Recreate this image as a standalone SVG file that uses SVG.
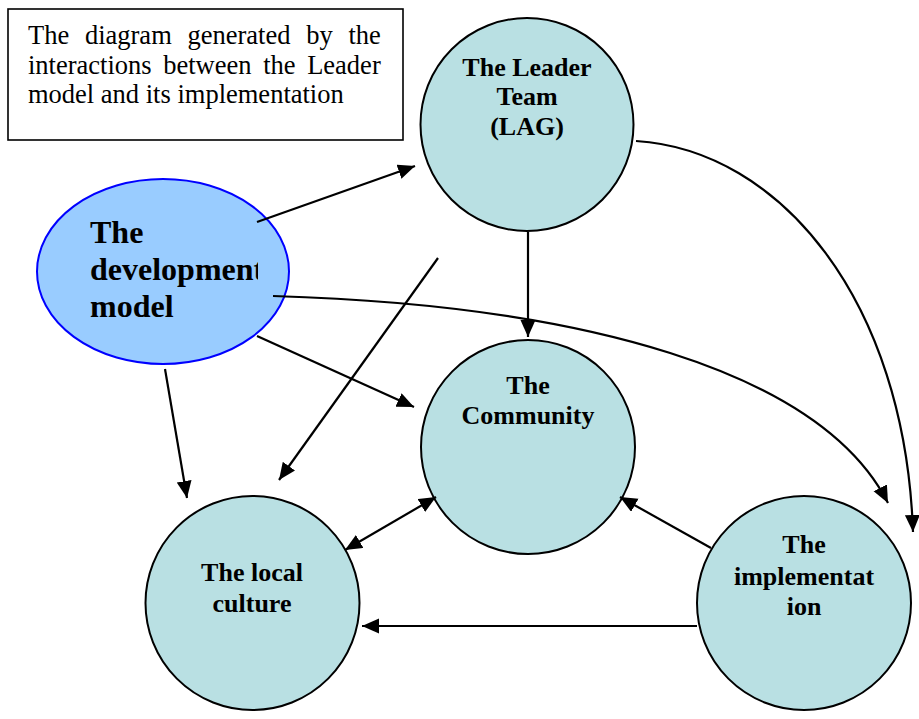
<svg xmlns="http://www.w3.org/2000/svg" width="919" height="719" viewBox="0 0 919 719">
<style>
.node{fill:#b9e0e3;stroke:#000;stroke-width:2}
.lbl{font-family:"Liberation Serif","Times New Roman",serif;font-weight:bold;font-size:26px;fill:#000;text-anchor:middle}
.box{font-family:"Liberation Serif","Times New Roman",serif;font-size:26.5px;fill:#000}
.edge{fill:none;stroke:#000;stroke-width:2.2;marker-end:url(#ah)}
</style>
<defs>
<marker id="ah" markerUnits="userSpaceOnUse" markerWidth="18" markerHeight="16" refX="17" refY="7.5" orient="auto-start-reverse">
<path d="M0,0 L17,7.5 L0,15 z" fill="#000"/>
</marker>
<clipPath id="devclip"><rect x="0" y="0" width="258" height="719"/></clipPath>
</defs>
<rect width="919" height="719" fill="#fff"/>
<g id="note">
<rect x="8" y="9" width="395" height="131" fill="#fff" stroke="#000" stroke-width="1.6"/>
<text class="box" x="28" y="44" word-spacing="9.1">The diagram generated by the</text>
<text class="box" x="28" y="73.5" word-spacing="5">interactions between the Leader</text>
<text class="box" x="28" y="103">model and its implementation</text>
</g>
<g id="development">
<ellipse cx="163" cy="271.5" rx="126" ry="92.5" fill="#99ccff" stroke="#0000ff" stroke-width="2"/>
<g clip-path="url(#devclip)" font-family="'Liberation Serif','Times New Roman',serif" font-weight="bold" font-size="32" fill="#000">
<text x="90" y="243">The</text>
<text x="90" y="280">development</text>
<text x="90" y="317">model</text>
</g>
</g>
<g id="leader">
<circle class="node" cx="527" cy="124.5" r="106.5"/>
<text class="lbl" x="527" y="76">The Leader</text>
<text class="lbl" x="527" y="105">Team</text>
<text class="lbl" x="527" y="135">(LAG)</text>
</g>
<g id="community">
<circle class="node" cx="528" cy="447" r="107"/>
<text class="lbl" x="528" y="394">The</text>
<text class="lbl" x="528" y="424">Community</text>
</g>
<g id="culture">
<circle class="node" cx="252.5" cy="603" r="107"/>
<text class="lbl" x="252" y="581">The local</text>
<text class="lbl" x="252" y="612">culture</text>
</g>
<g id="implementation">
<circle class="node" cx="804" cy="603" r="107"/>
<text class="lbl" x="804" y="553">The</text>
<text class="lbl" x="804" y="585">implementat</text>
<text class="lbl" x="804" y="615">ion</text>
</g>
<g id="connectors">
<path class="edge" d="M257,222 L415,166"/>
<path class="edge" d="M273,296 C580,305 820,370 888,503"/>
<path class="edge" d="M257,336 L414,407"/>
<path class="edge" d="M165,369 L187,498"/>
<path class="edge" d="M438,258 L279,480"/>
<path class="edge" d="M528,232 L528,337"/>
<path class="edge" d="M636,141 C780,150 905,300 913,532"/>
<path class="edge" style="marker-start:url(#ah)" d="M345,550 L436,497"/>
<path class="edge" d="M711,548 L620,497"/>
<path class="edge" d="M697,626 L362,626"/>
</g>
</svg>
